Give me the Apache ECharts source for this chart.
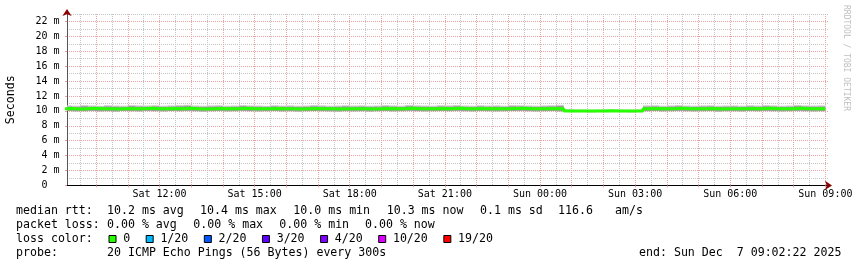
<!DOCTYPE html>
<html><head><meta charset="utf-8">
<script src="https://cdn.jsdelivr.net/npm/echarts@6/dist/echarts.min.js"></script>
<style>html,body{margin:0;padding:0;background:#fff}#c{width:857px;height:267px}</style>
</head><body><div id="c"></div>
<script>
// time of first sample (hours since Sat 00:00) and sample step (hours)
const START_HOUR = 9.0;
const STEP_HOURS = 0.25;
const X_MIN = 9 + 5 / 60;   // Sat 09:05
const X_MAX = 33 + 5 / 60;  // Sun 09:05

// median rtt (ms), one value per 15 minutes, Sat 09:00 .. Sun 09:00
const median = [
  10.30,10.32,10.26,10.30,10.34,10.28,10.30,10.26,10.32,10.30,10.28,10.34,10.30,
  10.28,10.32,10.30,10.36,10.30,10.26,10.30,10.32,10.28,10.30,10.34,10.30,
  10.28,10.30,10.32,10.28,10.30,10.26,10.30,10.32,10.30,10.28,10.26,10.30,
  10.28,10.30,10.26,10.30,10.32,10.28,10.30,10.34,10.30,10.28,10.30,10.32,
  10.30,10.36,10.30,10.28,10.32,10.30,10.28,10.30,10.32,10.34,10.30,10.28,
  10.30,10.32,10.28,10.00,10.00,9.98,10.00,10.00,10.02,10.00,9.98,10.00,
  10.00,10.30,10.32,10.28,10.30,10.34,10.30,10.28,10.30,10.32,10.26,10.30,
  10.30,10.28,10.32,10.30,10.34,10.30,10.28,10.30,10.36,10.30,10.28,10.30
];
// smoke: lowest ping, upper edge of dark core, highest ping (ms)
const smokeLo = [
  9.96,9.98,9.94,9.96,10.00,9.94,9.96,9.92,9.98,9.96,9.94,10.00,9.96,
  9.94,9.98,9.96,10.00,9.96,9.92,9.96,9.98,9.94,9.96,10.00,9.96,
  9.94,9.96,9.98,9.94,9.96,9.92,9.96,9.98,9.96,9.94,9.92,9.96,
  9.94,9.96,9.92,9.96,9.98,9.94,9.96,10.00,9.96,9.94,9.96,9.98,
  9.96,10.00,9.96,9.94,9.98,9.96,9.94,9.96,9.98,10.00,9.96,9.94,
  9.96,9.98,9.94,9.86,9.84,9.84,9.82,9.84,9.84,9.86,9.84,9.82,
  9.84,9.96,9.98,9.94,9.96,10.00,9.96,9.94,9.96,9.98,9.92,9.96,
  9.96,9.94,9.98,9.96,10.00,9.96,9.94,9.96,10.00,9.96,9.94,9.96
];
const coreHi = [
  10.56,10.58,10.54,10.62,10.56,10.54,10.60,10.56,10.54,10.64,10.58,10.56,10.60,
  10.54,10.58,10.62,10.66,10.56,10.54,10.58,10.60,10.54,10.56,10.64,10.58,
  10.56,10.54,10.60,10.56,10.58,10.54,10.56,10.62,10.58,10.54,10.56,10.60,
  10.56,10.58,10.54,10.56,10.62,10.58,10.54,10.64,10.58,10.56,10.54,10.60,
  10.58,10.62,10.56,10.54,10.60,10.56,10.58,10.54,10.62,10.60,10.56,10.54,
  10.58,10.60,10.66,10.08,10.06,10.04,10.02,10.06,10.04,10.08,10.04,10.02,
  10.06,10.58,10.60,10.54,10.58,10.62,10.56,10.54,10.58,10.60,10.54,10.56,
  10.58,10.54,10.60,10.56,10.62,10.58,10.54,10.56,10.64,10.58,10.56,10.58
];
const smokeHi = [
  10.72,10.74,10.70,10.78,10.72,10.68,10.76,10.72,10.70,10.78,10.74,10.72,10.76,
  10.70,10.74,10.78,10.82,10.72,10.70,10.74,10.76,10.70,10.72,10.78,10.74,
  10.72,10.68,10.76,10.72,10.74,10.70,10.72,10.78,10.74,10.70,10.72,10.76,
  10.72,10.74,10.70,10.72,10.78,10.74,10.70,10.80,10.74,10.72,10.70,10.76,
  10.74,10.78,10.72,10.70,10.76,10.72,10.74,10.70,10.78,10.76,10.72,10.70,
  10.74,10.76,10.82,10.24,10.18,10.16,10.14,10.18,10.16,10.20,10.16,10.14,
  10.18,10.74,10.76,10.70,10.74,10.78,10.72,10.70,10.74,10.76,10.70,10.72,
  10.74,10.70,10.76,10.72,10.78,10.74,10.70,10.72,10.80,10.74,10.72,10.74
];

const xLabelHours = [12, 15, 18, 21, 24, 27, 30, 33];
const xMajorHours = [10,11,12,13,14,15,16,17,18,19,20,21,22,23,24,25,26,27,28,29,30,31,32,33];
const xMinorHours = [9.5,10.5,11.5,12.5,13.5,14.5,15.5,16.5,17.5,18.5,19.5,20.5,21.5,22.5,23.5,24.5,25.5,26.5,27.5,28.5,29.5,30.5,31.5,32.5];
const yMajor = [0,2,4,6,8,10,12,14,16,18,20,22];
const yMinor = [1,3,5,7,9,11,13,15,17,19,21,23];

const lossColors = ['#26ff00','#00b8ff','#0059ff','#5e00ff','#7e00ff','#dd00ff','#ff0000'];
const lossLabels = ['0','1/20','2/20','3/20','4/20','10/20','19/20'];

const rttLine = [['median rtt:',16],['10.2 ms avg',107],['10.4 ms max',200],['10.0 ms min',293.3],['10.3 ms now',386.7],['0.1 ms sd',480],['116.6',558],['am/s',615]];
const lossLine = [['packet loss:',16],['0.00 % avg',107],['0.00 % max',193.3],['0.00 % min',279.3],['0.00 % now',365]];
const probeLine = [['probe:',16],['20 ICMP Echo Pings (56 Bytes) every 300s',107],['end: Sun Dec  7 09:02:22 2025',639]];

const MONO = 'DejaVu Sans Mono';
const FS = 11.6;
const CW = FS * 0.602;

const times = median.map((_, i) => START_HOUR + i * STEP_HOURS);
const pairs = arr => arr.map((v, i) => [times[i], v]);
// one box per 15-minute interval: [start, end, low, high]
const boxes = (lo, hi) => lo.slice(1).map((v, k) => [times[k], times[k + 1], v, hi[k + 1]]);

function fmtHour(h) {
  const day = h < 24 ? 'Sat' : 'Sun';
  const hh = String(Math.round(h) % 24).padStart(2, '0');
  return day + ' ' + hh + ':00';
}

function bandRenderer(color) {
  return function (params, api) {
    const a = api.coord([api.value(0), api.value(3)]);
    const b = api.coord([api.value(1), api.value(2)]);
    const cs = params.coordSys;
    const shape = echarts.graphic.clipRectByRect(
      {x:a[0], y:a[1], width:b[0] - a[0], height:b[1] - a[1]},
      {x:cs.x, y:cs.y, width:cs.width, height:cs.height});
    return shape && {type:'rect', shape, style:{fill:color}};
  };
}

const graphic = [];
function addRow(items, y) {
  items.forEach(([t, x]) => graphic.push({type:'text', x, y, silent:true,
    style:{text:t, font: FS + 'px "' + MONO + '"', fill:'#000', textAlign:'left', textVerticalAlign:'middle'}}));
}
addRow(rttLine, 211);
addRow(lossLine, 225);
addRow([['loss color:',16]], 239);
addRow(probeLine, 253);
let lx = 108.5;
lossLabels.forEach((lab, i) => {
  graphic.push({type:'rect', silent:true, shape:{x:lx + 0.5, y:235.5, width:7, height:7},
    style:{fill:lossColors[i], stroke:'#000', lineWidth:1}});
  const tx = lx + 14.7;
  graphic.push({type:'text', x:tx, y:239, silent:true,
    style:{text:lab, font: FS + 'px "' + MONO + '"', fill:'#000', textAlign:'left', textVerticalAlign:'middle'}});
  lx = tx + lab.length * CW + 15.5;
});
graphic.push({type:'text', x:846, y:5, rotation:-Math.PI/2, silent:true,
  style:{text:'RRDTOOL / TOBI OETIKER', font:'8px "' + MONO + '"', fill:'#c0c0c0', textAlign:'left', textVerticalAlign:'middle'}});

const gridGrey = {color:'#c4c4c4', type:[1,1], width:1};
const gridRed = {color:'#e9a3a3', type:[1,1], width:1};

const xBase = {type:'value', min:X_MIN, max:X_MAX, position:'bottom'};
const yBase = {type:'value', min:0, max:23, position:'left'};

const option = {
  animation:false,
  backgroundColor:'#ffffff',
  grid:{left:67, right:29, top:14, height:171.4, containLabel:false, outerBoundsMode:'none'},
  xAxis:[
    Object.assign({}, xBase, {
      axisLine:{show:true, onZero:false, lineStyle:{color:'#000', width:1}},
      axisTick:{show:true, length:2, customValues:xMajorHours, lineStyle:{color:'#e9a3a3'}},
      axisLabel:{customValues:xLabelHours, formatter:fmtHour, fontFamily:MONO, fontSize:10, color:'#000', margin:4},
      splitLine:{show:true, lineStyle:gridRed}
    }),
    Object.assign({}, xBase, {
      axisLine:{show:false},
      axisTick:{show:false, customValues:xMinorHours},
      axisLabel:{show:false},
      splitLine:{show:true, lineStyle:gridGrey}
    }),
    Object.assign({}, xBase, {
      axisLine:{show:true, onZero:false, symbol:['none','arrow'], symbolSize:[7,7], symbolOffset:[0,4], lineStyle:{color:'#8b0000', width:0}},
      axisTick:{show:false}, axisLabel:{show:false}, splitLine:{show:false}
    })
  ],
  yAxis:[
    Object.assign({}, yBase, {
      name:'Seconds', nameLocation:'middle', nameGap:50, nameRotate:90,
      nameTextStyle:{fontFamily:MONO, fontSize:FS, color:'#000'},
      axisLine:{show:true, onZero:false, lineStyle:{color:'#555', width:1}},
      axisTick:{show:true, length:2, customValues:yMajor, lineStyle:{color:'#e9a3a3'}},
      axisLabel:{customValues:yMajor, formatter:v => v === 0 ? '0  ' : v + ' m', fontFamily:MONO, fontSize:10, color:'#000', margin:7.5},
      splitLine:{show:true, lineStyle:gridRed}
    }),
    Object.assign({}, yBase, {
      axisLine:{show:false},
      axisTick:{show:false, customValues:yMinor},
      axisLabel:{show:false},
      splitLine:{show:true, lineStyle:gridGrey}
    }),
    Object.assign({}, yBase, {
      axisLine:{show:true, onZero:false, symbol:['none','arrow'], symbolSize:[7,7], symbolOffset:[0,5], lineStyle:{color:'#8b0000', width:0}},
      axisTick:{show:false}, axisLabel:{show:false}, splitLine:{show:false}
    })
  ],
  series:[
    {type:'custom', name:'smoke', silent:true, z:2, renderItem:bandRenderer('#cecece'),
      encode:{x:[0,1], y:[2,3]}, data:boxes(smokeLo, smokeHi)},
    {type:'custom', name:'smoke core', silent:true, z:2, renderItem:bandRenderer('#9c9c9c'),
      encode:{x:[0,1], y:[2,3]}, data:boxes(smokeLo, coreHi)},
    {type:'line', name:'median', step:'start', symbol:'none', silent:true, z:3,
      data:pairs(median), lineStyle:{width:3, color:lossColors[0]}}
  ],
  graphic:graphic
};
const chart = echarts.init(document.getElementById('c'), null, {renderer:'canvas'});
chart.setOption(option);
</script></body></html>
